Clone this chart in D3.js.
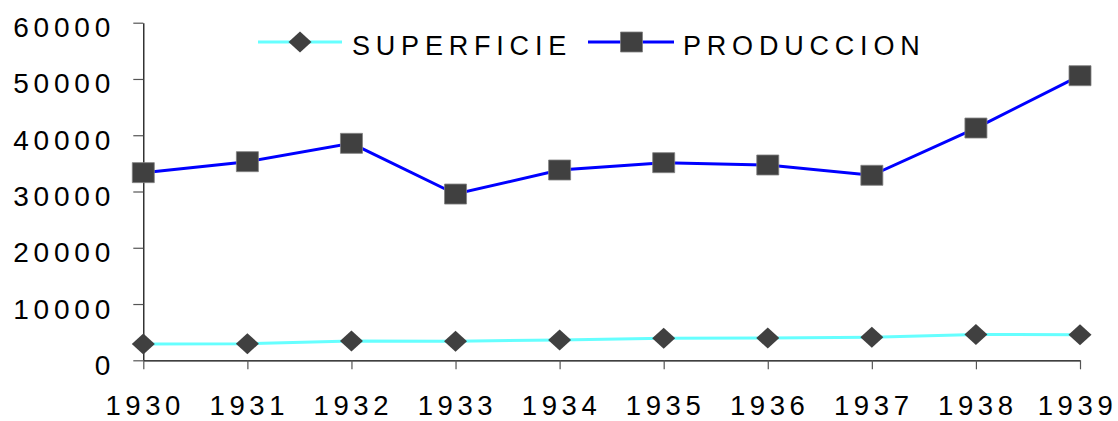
<!DOCTYPE html>
<html>
<head>
<meta charset="utf-8">
<script src="https://cdn.jsdelivr.net/npm/d3@7"></script>
<style>
  html, body { margin: 0; padding: 0; background: #fff; }
  svg { display: block; }
  text { font-family: "Liberation Sans", Arial, sans-serif; fill: #000; }
</style>
</head>
<body>
<svg id="chart" width="1118" height="421"></svg>
<script>
const years = [1930, 1931, 1932, 1933, 1934, 1935, 1936, 1937, 1938, 1939];
const superficie = [2900, 2950, 3420, 3400, 3600, 3900, 3950, 4080, 4600, 4560];
const produccion = [33350, 35300, 38560, 29550, 33820, 35120, 34710, 32880, 41280, 50580];
const yTicks = [0, 10000, 20000, 30000, 40000, 50000, 60000];
const seriesNames = ["SUPERFICIE", "PRODUCCION"];

const svg = d3.select("#chart");
const x = d3.scalePoint().domain(years).range([143.3, 1080]);
const y = d3.scaleLinear().domain([0, 60000]).range([360.3, 22.7]);

const LS = 4.8;

// Y axis
const gy = svg.append("g").attr("transform", "translate(143.3,0)")
  .call(d3.axisLeft(y).tickValues(yTicks).tickSize(10).tickSizeOuter(0).tickFormat(d3.format("d")));
gy.select(".domain").attr("stroke", "#000").attr("stroke-width", 1.2);
gy.selectAll(".tick line").attr("stroke", "#555").attr("stroke-width", 1.2);
gy.selectAll(".tick text")
  .attr("x", -33 + LS).attr("dy", null).attr("y", 14)
  .style("font-size", "28px").style("letter-spacing", LS + "px")
  .attr("fill", "#000");

// X axis
const gx = svg.append("g").attr("transform", "translate(0,360.3)")
  .call(d3.axisBottom(x).tickSize(9).tickSizeOuter(0));
gx.select(".domain").attr("stroke", "#000").attr("stroke-width", 1.2);
gx.selectAll(".tick line").attr("stroke", "#555").attr("stroke-width", 1.2);
const lastYear = years[years.length - 1];
gx.selectAll(".tick text")
  .attr("y", 55).attr("dy", null)
  .attr("x", d => d === lastYear ? -3 : LS / 2 - 1)
  .style("font-size", "27.5px").style("letter-spacing", "4.6px")
  .attr("fill", "#000");

const line = d3.line().x((d, i) => x(years[i])).y(d => y(d));

const diamond = "M0,-10.5L11.5,0L0,10.5L-11.5,0Z";
const square = "M-11,-10H11V10H-11Z";

// SUPERFICIE
svg.append("path").datum(superficie).attr("d", line)
  .attr("fill", "none").attr("stroke", "#66FFFF").attr("stroke-width", 3);
// PRODUCCION
svg.append("path").datum(produccion).attr("d", line)
  .attr("fill", "none").attr("stroke", "#0000FF").attr("stroke-width", 3);

svg.append("g").selectAll("path").data(superficie).join("path")
  .attr("d", diamond)
  .attr("transform", (d, i) => `translate(${x(years[i])},${y(d)})`)
  .attr("fill", "#404040");

svg.append("g").selectAll("path").data(produccion).join("path")
  .attr("d", square)
  .attr("transform", (d, i) => `translate(${x(years[i])},${y(d)})`)
  .attr("fill", "#404040").attr("stroke", "#808080").attr("stroke-width", 0.8);

// Legend
const legend = [
  { name: seriesNames[0], color: "#66FFFF", shape: diamond, x0: 258, x1: 342, mx: 300, tx: 352 },
  { name: seriesNames[1], color: "#0000FF", shape: square, x0: 588, x1: 674, mx: 631.5, tx: 683 }
];
const lg = svg.append("g");
legend.forEach(l => {
  lg.append("line").attr("x1", l.x0).attr("x2", l.x1).attr("y1", 42).attr("y2", 42)
    .attr("stroke", l.color).attr("stroke-width", 3);
  lg.append("path").attr("d", l.shape).attr("transform", `translate(${l.mx},42)`)
    .attr("fill", "#404040")
    .attr("stroke", l.shape === square ? "#808080" : "none").attr("stroke-width", 0.8);
  lg.append("text").attr("x", l.tx).attr("y", 55).text(l.name)
    .style("font-size", "27px").style("letter-spacing", "5.8px");
});
</script>
</body>
</html>
